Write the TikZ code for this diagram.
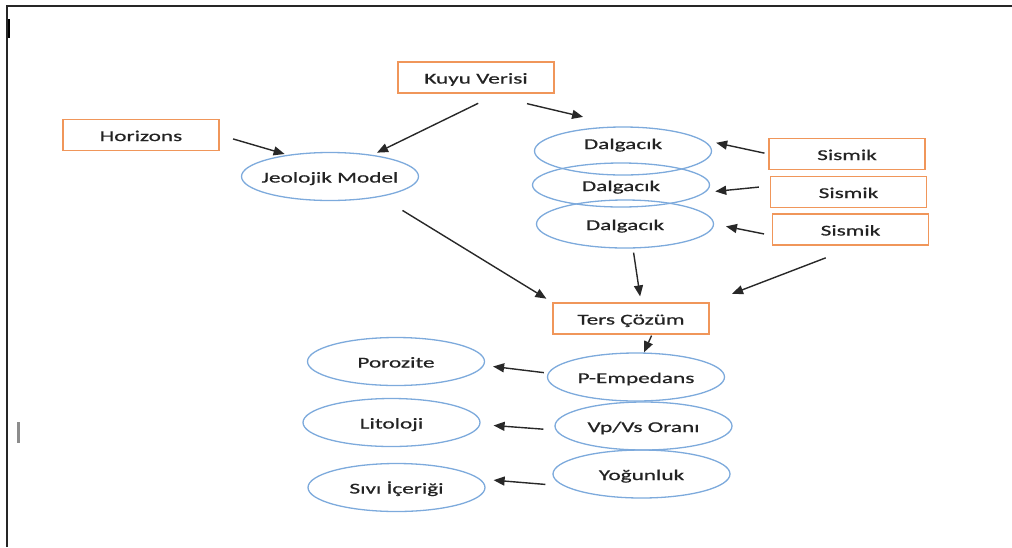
\documentclass[tikz,border=0pt]{standalone}
\usepackage{fontspec}
\setmainfont{Carlito}[FakeStretch=1.55, FakeBold=0.7]
\usetikzlibrary{arrows.meta, shapes.geometric}
\definecolor{boxorange}{RGB}{240,150,90}
\definecolor{ellblue}{RGB}{125,170,220}
\definecolor{arrgray}{RGB}{40,40,40}
\definecolor{txtgray}{RGB}{35,35,35}
\tikzset{
  box/.style ={rectangle, draw=boxorange, line width=1.3pt, minimum width=156pt, minimum height=31pt, inner sep=0pt, text=txtgray, text height=12pt, text depth=0pt, font=\fontsize{15}{17}\selectfont},
  ell/.style ={ellipse, draw=ellblue, line width=1.3pt, minimum width=177pt, minimum height=48pt, inner sep=0pt, text=txtgray, text height=12pt, text depth=0pt, font=\fontsize{15}{17}\selectfont},
  fl/.style  ={-{Triangle[length=11pt,width=9pt]}, draw=arrgray, line width=1.4pt},
  frm/.style ={line width=2.2pt, draw=black!85},
}
\begin{document}
\begin{tikzpicture}[x=1pt, y=-1pt]
  \useasboundingbox (0,0) rectangle (1012,547);
  \draw[frm] (7,547) -- (7,6) -- (1012,6);
  \fill[black] (7.5,19) rectangle (10,38);
  \fill[black!45] (17,422) rectangle (20,443);

  \node[box] (kuyu) at (476,77.5) {Kuyu Verisi};
  \node[box] (hor) at (141,135) {Horizons};
  \node[ell, inner xsep=-14pt] (jeo) at (330,176.5) {Jeolojik Model};
  \node[ell] (dal1) at (623,151) {\raisebox{8pt}[\height][\depth]{Dalgacık}};
  \node[ell, minimum height=44pt] (dal2) at (621,185) {Dalgacık};
  \node[ell] (dal3) at (625,224) {Dalgacık};
  \node[box] (sis1) at (847,154) {Sismik};
  \node[box] (sis2) at (848.5,192) {Sismik};
  \node[box] (sis3) at (850.5,229.5) {Sismik};
  \node[box] (ters) at (631,318.5) {Ters Çözüm};
  \node[ell] (pemp) at (636,377) {P-Empedans};
  \node[ell] (vpvs) at (643.5,426) {Vp/Vs Oranı};
  \node[ell] (yog) at (641.5,474) {Yoğunluk};
  \node[ell] (poro) at (396,361.5) {Porozite};
  \node[ell] (lito) at (391.5,422.5) {Litoloji};
  \node[ell] (sivi) at (396.5,487.5) {Sıvı İçeriği};

  \draw[fl, shorten <=14pt, shorten >=3pt] (hor.east) -- (jeo.153);
  \draw[fl, shorten <=22pt, shorten >=5pt] ([xshift=22pt]kuyu.south) -- (jeo.27);
  \draw[fl, shorten >=41pt] ([xshift=51pt,yshift=-10pt]kuyu.south) -- (dal1.north);
  \draw[fl, shorten <=4pt, shorten >=14pt] (sis1.west) -- (dal1.8);
  \draw[fl, shorten <=11pt, shorten >=10pt] ([yshift=6pt]sis2.west) -- (dal2.-5);
  \draw[fl, shorten <=8pt, shorten >=12pt] ([yshift=-6pt]sis3.west) -- (dal3.east);
  \draw[fl, shorten <=26pt, shorten >=7pt] (jeo.-22) -- (ters.north west);
  \draw[fl, shorten <=4pt, shorten >=6pt] ([xshift=8pt]dal3.south) -- ([xshift=10pt]ters.north);
  \draw[fl, shorten <=34pt, shorten >=24pt] ([xshift=7pt]sis3.south) -- (ters.north east);
  \draw[fl, shorten <=1pt] ([xshift=21pt]ters.south) -- ([xshift=8pt]pemp.north);
  \draw[fl, shorten <=3pt, shorten >=8pt] ([yshift=4pt]pemp.west) -- ([yshift=-4pt]poro.east);
  \draw[fl, shorten <=11pt, shorten >=13pt] ([yshift=-4pt]vpvs.west) -- ([yshift=-2pt]lito.east);
  \draw[fl, shorten <=7pt, shorten >=8pt] ([yshift=-11pt]yog.west) -- ([yshift=8pt]sivi.east);
\end{tikzpicture}
\end{document}
